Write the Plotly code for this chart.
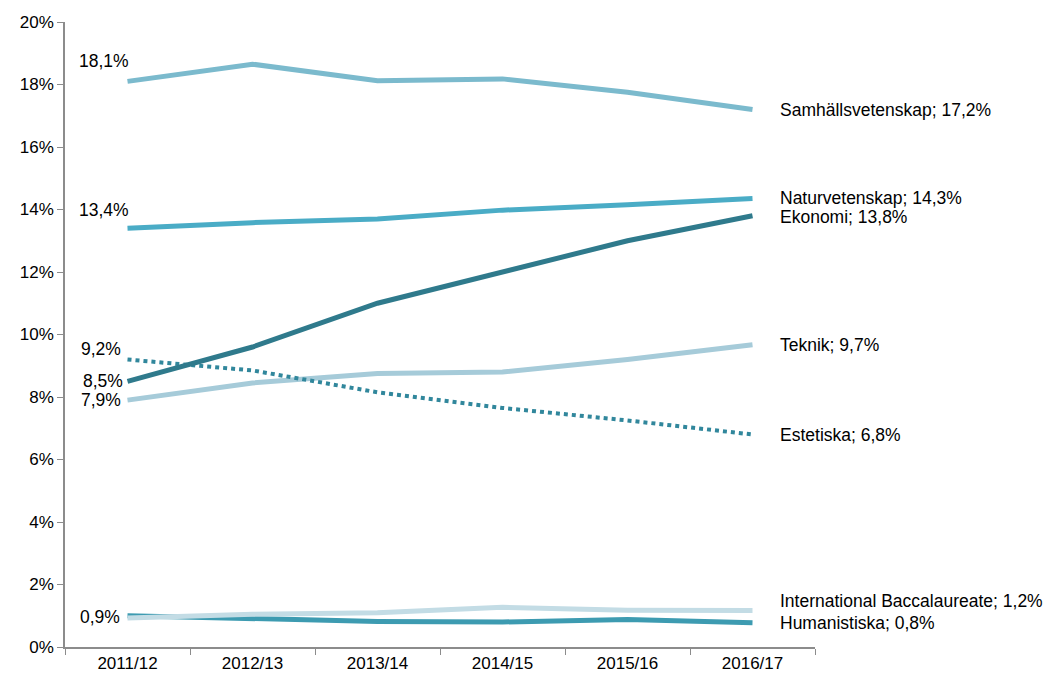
import plotly.graph_objects as go

years = ["2011/12", "2012/13", "2013/14", "2014/15", "2015/16", "2016/17"]
samhall = [18.1, 18.65, 18.12, 18.18, 17.75, 17.2]
natur = [13.4, 13.58, 13.7, 13.98, 14.15, 14.35]
ekonomi = [8.5, 9.6, 11.0, 12.02, 13.0, 13.8]
teknik = [7.9, 8.45, 8.75, 8.8, 9.2, 9.67]
estetiska = [9.2, 8.85, 8.15, 7.65, 7.25, 6.8]
ib = [0.93, 1.05, 1.1, 1.27, 1.18, 1.17]
human = [1.0, 0.9, 0.82, 0.8, 0.88, 0.78]

series = [
    ("Samhällsvetenskap", samhall, "#7bbacd", "solid", "18,1%", "Samhällsvetenskap; 17,2%"),
    ("Naturvetenskap", natur, "#4aacc6", "solid", "13,4%", "Naturvetenskap; 14,3%"),
    ("Ekonomi", ekonomi, "#2f7a8c", "solid", "8,5%", "Ekonomi; 13,8%"),
    ("Teknik", teknik, "#a6cbd9", "solid", "7,9%", "Teknik; 9,7%"),
    ("Estetiska", estetiska, "#31879c", "dot", "9,2%", "Estetiska; 6,8%"),
    ("International Baccalaureate", ib, "#c3dce5", "solid", "0,9%", "International Baccalaureate; 1,2%"),
    ("Humanistiska", human, "#3d9bb1", "solid", None, "Humanistiska; 0,8%"),
]

fig = go.Figure()
order = [6, 5, 0, 1, 3, 4, 2]
for i in order:
    name, vals, col, dash, _, _ = series[i]
    fig.add_trace(go.Scatter(
        x=years, y=vals, mode="lines", name=name,
        line=dict(color=col, width=5 if dash == "solid" else 4, dash=dash),
        showlegend=False, hoverinfo="skip"))

font = dict(family="Liberation Sans, Arial, sans-serif", size=17.5, color="#000000")
tfont = dict(family="Liberation Sans, Arial, sans-serif", size=17, color="#000000")

# left labels: (series index, xshift, yshift, anchor)
left_pos = {0: (-24, 20, "center"), 1: (-24, 18, "center"), 2: (-3, 0, "right"),
            3: (-5, 0, "right"), 4: (-5, 11, "right"), 5: (-6, 1, "right")}
for i, (xs, ys, anc) in left_pos.items():
    fig.add_annotation(x=0, y=series[i][1][0], text=series[i][4], showarrow=False,
                       xanchor=anc, yanchor="middle", xshift=xs, yshift=ys, font=font)

right_shift = {0: 0, 1: 1, 2: -1, 3: 0, 4: 0, 5: 9, 6: 0}
for i, ys in right_shift.items():
    fig.add_annotation(x=5, y=series[i][1][-1], text=series[i][5], showarrow=False,
                       xanchor="left", yanchor="middle", xshift=25, yshift=ys, font=font)

# page body has an 8px margin, so offset the figure accordingly
fig.update_layout(
    width=1053, height=666,
    margin=dict(l=57, r=246, t=14, b=27),
    paper_bgcolor="white", plot_bgcolor="white",
    font=font,
)
fig.update_xaxes(
    type="category", range=[-0.5, 5.5], showgrid=False, showline=True, automargin=False,
    linecolor="#8c8c8c", linewidth=1.5, ticks="outside", tickson="boundaries",
    ticklen=6, tickcolor="#8c8c8c", tickfont=tfont,
)
fig.update_yaxes(
    range=[0, 20], dtick=2, ticksuffix="%", showgrid=False, zeroline=False, automargin=False,
    showline=True, linecolor="#8c8c8c", linewidth=1.5, ticks="outside",
    ticklen=6, tickcolor="#8c8c8c", tickfont=tfont,
)

fig.write_html("out.html")
